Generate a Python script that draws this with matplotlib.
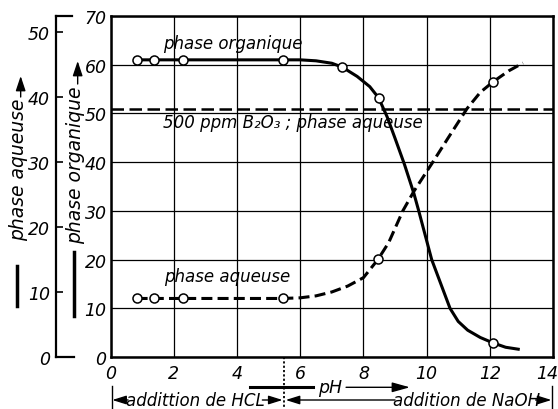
import matplotlib
matplotlib.use("Agg")
import matplotlib.pyplot as plt
from matplotlib.patches import FancyArrowPatch
from matplotlib.lines import Line2D
from matplotlib.transforms import blended_transform_factory, ScaledTranslation

# --- values ---
# phase organique (left inner axis, 0..70)
ph_org_pts = [0.82, 1.38, 2.28, 5.44, 7.33, 8.48, 12.1]
org_pts = [61.0, 61.0, 61.0, 61.0, 59.5, 53.2, 2.9]
ph_org_line = [0.82, 5.44, 6.0, 6.5, 7.0, 7.33, 7.8, 8.2, 8.48, 8.75, 9.0, 9.3,
               9.6, 9.75, 10.16, 10.45, 10.74, 11.0, 11.3, 11.7, 12.1, 12.5, 12.9]
org_line = [61.0, 61.0, 61.0, 60.8, 60.3, 59.5, 57.6, 55.5, 53.2, 49.3, 44.9, 39.5,
            33.5, 30.0, 20.0, 15.0, 10.0, 7.3, 5.5, 4.0, 2.9, 2.0, 1.6]

# phase aqueuse (left outer axis, 0..50)
ph_aq_pts = [0.82, 1.38, 2.28, 5.44, 8.46, 12.1]
aq_pts = [9.0, 9.0, 9.0, 9.0, 15.0, 42.3]
ph_aq_line = [0.82, 5.44, 6.0, 6.5, 7.0, 7.5, 8.0, 8.46, 8.8, 9.25, 9.6, 10.2,
              10.67, 11.28, 11.7, 12.1, 12.6, 13.05]
aq_line = [9.0, 9.0, 9.1, 9.4, 10.0, 10.9, 12.2, 15.0, 17.6, 22.5, 25.5, 30.0,
           33.6, 38.2, 40.7, 42.3, 44.0, 45.2]

ppm_level = 38.2          # 500 ppm B2O3, phase aqueuse
ph_neutral = 5.49         # dotted separator HCl / NaOH

x_ticks = list(range(0, 15, 2))
org_ticks = list(range(0, 71, 10))
aq_ticks = list(range(0, 51, 10))

plt.rcParams["font.family"] = ["DejaVu Sans"]
plt.rcParams["font.style"] = "italic"
plt.rcParams["font.size"] = 12

W, H = 558, 410
fig = plt.figure(figsize=(W / 100, H / 100), dpi=100)
ax = fig.add_axes([110.7 / W, 1 - 358 / H, (553 - 110.7) / W, (358 - 17) / H])

ax.set_xlim(0, 14)
ax.set_ylim(0, 70)
ax.set_xticks(x_ticks)
ax.set_yticks(org_ticks)
ax.grid(True, color="black", lw=0.9)
ax.set_axisbelow(True)
ax.tick_params(length=0, labelsize=12.5)
ax.tick_params(axis="x", pad=5)
ax.tick_params(axis="y", pad=3)
for s in ax.spines.values():
    s.set_linewidth(1.8)
last = ax.get_xticklabels()[-1]
last.set_transform(last.get_transform() + ScaledTranslation(-0.06, 0, fig.dpi_scale_trans))

# outer axis for the aqueous phase
ax2 = ax.twinx()
ax2.set_ylim(0, 70 * 0.749)
ax2.set_yticks(aq_ticks)
ax2.yaxis.set_ticks_position("left")
ax2.yaxis.set_label_position("left")
ax2.spines["left"].set_position(("outward", 39.6))
for k in ["right", "top", "bottom"]:
    ax2.spines[k].set_visible(False)
ax2.spines["left"].set_linewidth(1.6)
ax2.tick_params(axis="y", direction="in", length=5, width=1.2, pad=4, labelsize=12.5)

# bracket ends of the outer axis
tb = blended_transform_factory(fig.transFigure, ax2.transData)
for yv, x1 in [(0, 74), (70 * 0.749, 72)]:
    ax2.plot([56 / W, x1 / W], [yv, yv], color="black", lw=1.6, transform=tb, clip_on=False)

# curves
ax.plot(ph_org_line, org_line, color="black", lw=2.2, zorder=3)
ax.plot(ph_org_pts, org_pts, "o", ms=6.5, mfc="white", mec="black", mew=1.1, zorder=4)

ax2.plot(ph_aq_line, aq_line, color="black", lw=2.2, dashes=(3.6, 1.7), zorder=3)
ax2.plot(ph_aq_pts, aq_pts, "o", ms=6.5, mfc="white", mec="black", mew=1.1, zorder=4)
ax2.axhline(ppm_level, color="black", lw=1.8, dashes=(5, 2.2), zorder=3)

ax.text(1.65, 64.4, "phase organique", va="center", ha="left")
ax.text(1.65, 48.3, "500 ppm B₂O₃ ; phase aqueuse", va="center", ha="left")
ax.text(1.7, 16.7, "phase aqueuse", va="center", ha="left")

# y axis titles with arrows and line sample
for xc, ytop, ybase, label, bar in [(19, 77, 98, "phase aqueuse", (267, 307)),
                                    (76, 62, 85, "phase organique", (253, 317))]:
    fig.text(xc / W, 1 - (ybase + 1) / H, label,
             rotation=90, ha="center", va="top", fontsize=13.5)
    fig.add_artist(FancyArrowPatch(
        (xc / W + 0.003, 1 - ybase / H), (xc / W + 0.003, 1 - ytop / H),
        transform=fig.transFigure, arrowstyle="-|>,head_length=9,head_width=3",
        color="black", lw=1.0, shrinkA=0, shrinkB=0))
    fig.add_artist(Line2D([xc / W - 0.003] * 2, [1 - bar[0] / H, 1 - bar[1] / H],
                          transform=fig.transFigure, color="black", lw=2.5))

# pH / addition annotations below the x axis
tr = blended_transform_factory(ax.transData, fig.transFigure)
y1 = 1 - 388.3 / H
y2 = 1 - 401 / H
arrow = dict(arrowstyle="-|>,head_length=0.7,head_width=0.22", color="black", lw=1.0,
             shrinkA=0, shrinkB=0)
ax.plot([4.41, 6.4], [y1, y1], color="black", lw=2.2, transform=tr, clip_on=False)
ax.text(6.95, y1, "pH", transform=tr, ha="center", va="center", fontsize=12.5)
ax.annotate("", xy=(9.47, y1), xytext=(7.45, y1), xycoords=tr, textcoords=tr,
            arrowprops=dict(arrow, arrowstyle="-|>,head_length=0.9,head_width=0.25"))
ax.plot([ph_neutral, ph_neutral], [1 - 358 / H, 0], color="black", lw=1.3,
        ls=(0, (1.2, 1.2)), transform=tr, clip_on=False)
ax.plot([0.03, 0.03], [1 - 387 / H, 0], color="black", lw=1.0, transform=tr, clip_on=False)
ax.plot([13.98, 13.98], [1 - 387 / H, 0], color="black", lw=1.0, transform=tr, clip_on=False)

ax.annotate("", xy=(0.05, y2), xytext=(0.55, y2), xycoords=tr, textcoords=tr, arrowprops=arrow)
ax.text(0.5, y2, "addittion de HCL", transform=tr, ha="left", va="center", fontsize=12)
ax.annotate("", xy=(ph_neutral - 0.05, y2), xytext=(4.8, y2), xycoords=tr, textcoords=tr,
            arrowprops=arrow)
ax.annotate("", xy=(ph_neutral + 0.05, y2), xytext=(9.0, y2), xycoords=tr, textcoords=tr,
            arrowprops=arrow)
ax.text(8.95, y2, "addition de NaOH", transform=tr, ha="left", va="center", fontsize=12)
ax.annotate("", xy=(13.95, y2), xytext=(13.45, y2), xycoords=tr, textcoords=tr,
            arrowprops=arrow)

fig.savefig("out.png", dpi=100)
